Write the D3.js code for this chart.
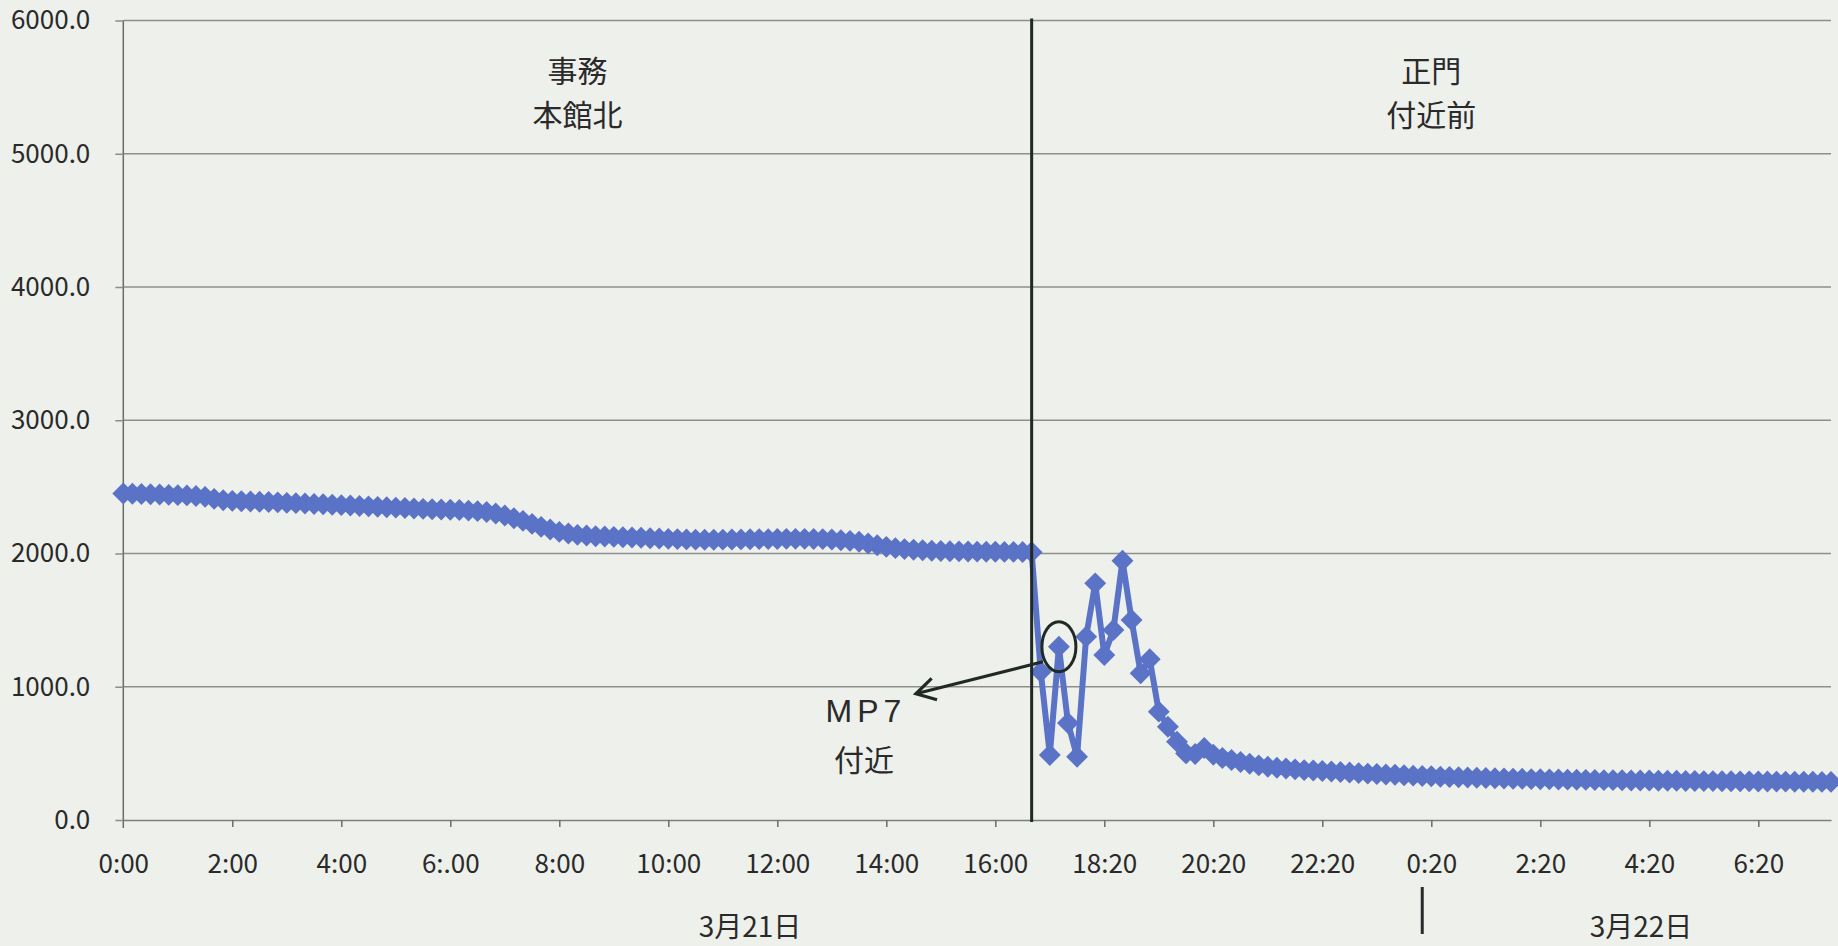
<!DOCTYPE html>
<html>
<head>
<meta charset="utf-8">
<script src="https://cdn.jsdelivr.net/npm/d3@7"></script>
<style>
	body { margin: 0; background: #eef0eb; }
	svg text { font-family: "Noto Sans CJK JP", sans-serif; fill: #2a2a2a; }
</style>
</head>
<body>
<div id="chart"></div>
<script>
/*
Dose rate line chart (two measuring points, 3/21 - 3/22)
*/

// Category axis labels, one every 12 points
var tickLabels = ["0:00", "2:00", "4:00", "6:.00", "8:00", "10:00", "12:00", "14:00",
	"16:00", "18:20", "20:20", "22:20", "0:20", "2:20", "4:20", "6:20"];
var tickStep = 12;

// Y axis ticks
var yTicks = [0, 1000, 2000, 3000, 4000, 5000, 6000];

// Measured values (one per 10 min category)
var values = [
	2450, 2448, 2446, 2445, 2443, 2440, 2438, 2436, 2432, 2425,
	2410, 2400, 2395, 2392, 2390, 2388, 2386, 2384, 2380, 2378,
	2375, 2372, 2370, 2366, 2363, 2360, 2357, 2354, 2350, 2347,
	2344, 2341, 2338, 2335, 2332, 2330, 2328, 2326, 2322, 2318,
	2312, 2300, 2285, 2265, 2245, 2222, 2200, 2180, 2162, 2150,
	2140, 2135, 2130, 2127, 2125, 2122, 2120, 2118, 2115, 2112,
	2110, 2108, 2106, 2104, 2103, 2103, 2104, 2105, 2106, 2107,
	2108, 2108, 2109, 2110, 2110, 2110, 2109, 2108, 2105, 2100,
	2095, 2088, 2075, 2062, 2050, 2040, 2033, 2028, 2024, 2021,
	2019, 2017, 2016, 2015, 2014, 2013, 2013, 2012, 2012, 2011,
	2010,
	1113, 488, 1300, 728, 475, 1376, 1776, 1238, 1426, 1946,
	1501, 1101, 1206, 813, 700, 588, 500, 495, 540, 490,
	465, 450, 435, 422, 410, 400, 392, 386, 380, 374,
	372, 368, 364, 360, 356, 352, 348, 345, 342, 339,
	336, 333, 330, 328, 325, 323, 321, 319, 317, 315,
	313, 312, 310, 309, 307, 306, 305, 304, 303, 302,
	301, 300, 299, 299, 298, 297, 296, 296, 295, 294,
	294, 293, 293, 292, 292, 291, 291, 290, 290, 289,
	289, 288, 288, 287, 287, 287, 286, 286
];

// Where the measuring point changes, the circled point, the day change
var dividerIndex = 100;
var markedIndex = 103;
var dayBreakIndex = 143;

// Text labels
var regionLabels = [["事務", "本館北"], ["正門", "付近前"]];
var dayLabels = ["3月21日", "3月22日"];
var noteLabels = ["MP7", "付近"];

// Defining line-chart class
class LineChart{

	// Constructor
	constructor(_parentElement){
		this.parentElement = _parentElement;

		this.initializeChart();
	}

	// Initialize chart
	initializeChart(){
		var vis = this;

		// Define constants
		vis.margin = {top: 20.5, right: 7, bottom: 126, left: 123.3};
		vis.totalWidth = 1838;
		vis.totalHeight = 946;
		vis.width = vis.totalWidth - vis.margin.left - vis.margin.right;
		vis.height = vis.totalHeight - vis.margin.top - vis.margin.bottom;
		vis.blue = "#5a73c6";
		vis.ink = "#1f2a25";

		vis.svg = d3.select(vis.parentElement).append("svg")
						.attr("width", vis.totalWidth)
						.attr("height", vis.totalHeight);

		vis.svg.append("rect")
			.attr("width", vis.totalWidth)
			.attr("height", vis.totalHeight)
			.attr("fill", "#eef0eb");

		vis.g = vis.svg.append("g")
			.attr("transform", "translate(" + vis.margin.left + "," + vis.margin.top + ")");

		// Scales
		vis.x = d3.scalePoint()
			.domain(d3.range(values.length))
			.range([0, vis.width]);

		vis.y = d3.scaleLinear()
			.domain([0, 6000])
			.range([vis.height, 0]);

		// Arrow head
		vis.svg.append("defs").append("marker")
			.attr("id", "arrow")
			.attr("markerUnits", "userSpaceOnUse")
			.attr("viewBox", "-24 -14 28 28")
			.attr("markerWidth", 28)
			.attr("markerHeight", 28)
			.attr("refX", 0)
			.attr("refY", 0)
			.attr("orient", "auto")
			.append("path")
			.attr("d", "M-19,-11L0,0L-19,11")
			.attr("fill", "none")
			.attr("stroke", vis.ink)
			.attr("stroke-width", 3.2);

		vis.updateChart();
	}

	// Update chart
	updateChart(){
		var vis = this;

		// Grid lines
		vis.g.selectAll(".grid")
			.data(yTicks.filter(d => d > 0))
			.enter().append("line")
			.attr("class", "grid")
			.attr("x1", 0)
			.attr("x2", vis.width)
			.attr("y1", d => vis.y(d))
			.attr("y2", d => vis.y(d))
			.attr("stroke", "#8d8f8c")
			.attr("stroke-width", 1.5);

		// Y axis
		var yAxis = vis.g.append("g")
			.call(d3.axisLeft(vis.y)
				.tickValues(yTicks)
				.tickFormat(d3.format(".1f"))
				.tickSize(8)
				.tickSizeOuter(0)
				.tickPadding(25));
		yAxis.select(".domain").attr("stroke", "#6b6d6a").attr("stroke-width", 1.5)
			.attr("d", "M0,0V" + (vis.height + 8));
		yAxis.selectAll(".tick line").attr("stroke", "#8d8f8c").attr("stroke-width", 1.5);
		yAxis.selectAll("text").attr("font-size", 26).attr("fill", "#2a2a2a");

		// X axis
		var xAxis = vis.g.append("g")
			.attr("transform", "translate(0," + vis.height + ")")
			.call(d3.axisBottom(vis.x)
				.tickValues(d3.range(0, values.length, tickStep))
				.tickFormat((d, i) => tickLabels[i])
				.tickSize(7)
				.tickSizeOuter(0));
		xAxis.select(".domain").attr("stroke", "#7d7f7c").attr("stroke-width", 1.6);
		xAxis.selectAll(".tick line").attr("stroke", "#6b6d6a").attr("stroke-width", 1.5);
		xAxis.selectAll(".tick:first-of-type line").remove();
		xAxis.selectAll("text")
			.attr("font-size", 26)
			.attr("fill", "#2a2a2a")
			.attr("y", 44)
			.attr("dy", "0.35em");

		// Series line
		var line = d3.line()
			.x((d, i) => vis.x(i))
			.y(d => vis.y(d));

		vis.g.append("path")
			.datum(values)
			.attr("d", line)
			.attr("fill", "none")
			.attr("stroke", vis.blue)
			.attr("stroke-width", 6)
			.attr("stroke-linejoin", "round");

		// Diamond markers
		vis.g.selectAll(".marker")
			.data(values)
			.enter().append("path")
			.attr("class", "marker")
			.attr("d", d3.symbol(d3.symbolSquare).size(240))
			.attr("transform", (d, i) => "translate(" + vis.x(i) + "," + vis.y(d) + ") rotate(45)")
			.attr("fill", vis.blue);

		// Divider between the two measuring points
		var xd = vis.x(dividerIndex);
		vis.g.append("line")
			.attr("x1", xd).attr("x2", xd)
			.attr("y1", vis.y(6000) - 2).attr("y2", vis.height + 2)
			.attr("stroke", vis.ink)
			.attr("stroke-width", 3);

		// Region labels
		var centers = [xd / 2, (xd + vis.width) / 2];
		regionLabels.forEach((lines, k) => {
			vis.g.selectAll(null)
				.data(lines)
				.enter().append("text")
				.attr("x", centers[k])
				.attr("y", (d, i) => 50.5 + i * 44)
				.attr("text-anchor", "middle")
				.attr("dy", "0.35em")
				.attr("font-size", 30)
				.text(d => d);
		});

		// Circle round the MP7 point and arrow to its note
		var cx = vis.x(markedIndex), cy = vis.y(values[markedIndex]);
		vis.g.append("ellipse")
			.attr("cx", cx)
			.attr("cy", cy)
			.attr("rx", 17)
			.attr("ry", 25)
			.attr("fill", "none")
			.attr("stroke", vis.ink)
			.attr("stroke-width", 3);

		vis.g.append("line")
			.attr("x1", cx - 16).attr("y1", cy + 15)
			.attr("x2", cx - 143).attr("y2", cy + 47)
			.attr("stroke", vis.ink)
			.attr("stroke-width", 3.2)
			.attr("marker-end", "url(#arrow)");

		vis.g.append("text")
			.attr("x", 866 - vis.margin.left)
			.attr("y", 711 - vis.margin.top)
			.attr("dy", "0.35em")
			.attr("text-anchor", "middle")
			.attr("font-size", 32)
			.attr("letter-spacing", 5)
			.style("font-family", "'Liberation Sans', sans-serif")
			.text(noteLabels[0]);

		vis.g.append("text")
			.attr("x", 864 - vis.margin.left)
			.attr("y", 760 - vis.margin.top)
			.attr("dy", "0.35em")
			.attr("text-anchor", "middle")
			.attr("font-size", 30)
			.text(noteLabels[1]);

		// Day labels and the day separator
		var xb = vis.x(dayBreakIndex);
		vis.g.append("line")
			.attr("x1", xb).attr("x2", xb)
			.attr("y1", vis.height + 67).attr("y2", vis.height + 114)
			.attr("stroke", "#2a2a2a")
			.attr("stroke-width", 3);

		vis.g.selectAll(".day")
			.data(dayLabels)
			.enter().append("text")
			.attr("class", "day")
			.attr("x", (d, i) => i === 0 ? 750 - vis.margin.left : 1641 - vis.margin.left)
			.attr("y", vis.height + 107)
			.attr("dy", "0.35em")
			.attr("text-anchor", "middle")
			.attr("font-size", 28)
			.text(d => d);
	}
}

new LineChart("#chart");
</script>
</body>
</html>
